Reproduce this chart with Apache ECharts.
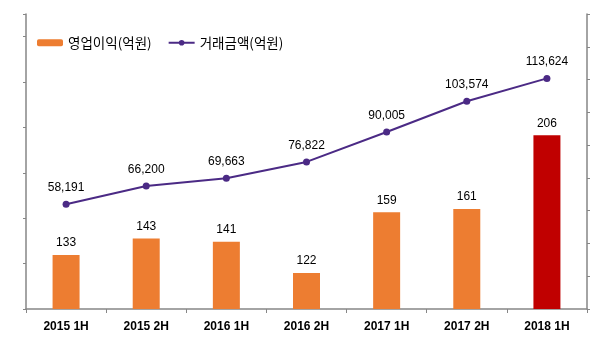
<!DOCTYPE html>
<html>
<head>
<meta charset="utf-8">
<script src="https://cdn.jsdelivr.net/npm/echarts@6/dist/echarts.min.js"></script>
<style>
  html, body { margin: 0; padding: 0; background: #fff; }
  #chart { width: 601px; height: 350px; }
</style>
</head>
<body>
<div id="chart"></div>
<script>
  const categories = ['2015 1H', '2015 2H', '2016 1H', '2016 2H', '2017 1H', '2017 2H', '2018 1H'];
  const profit = [133, 143, 141, 122, 159, 161, 206];      // 영업이익(억원)
  const volume = [58191, 66200, 69663, 76822, 90005, 103574, 113624]; // 거래금액(억원)

  const axisColor = '#868686';
  const numFont = 'Liberation Sans, Arial, sans-serif';

  let myChart = echarts.init(document.getElementById('chart'));

  // last bar highlighted in red
  const barData = profit.map((v, i) => ({
    value: v,
    itemStyle: {color: i === profit.length - 1 ? '#C00000' : '#ED7D31'}
  }));

  let option = {
    animation: false,
    backgroundColor: '#fff',
    legend: {
      left: 32,
      top: 31,
      itemWidth: 26,
      itemHeight: 7,
      itemGap: 16,
      textStyle: {
        fontFamily: 'Noto Sans CJK KR',
        fontSize: 13.5,
        color: '#000'
      },
      data: [
        {name: '영업이익(억원)', itemStyle: {color: '#ED7D31'}},
        {name: '거래금액(억원)'}
      ]
    },
    grid: {left: 26, right: 14, top: 14, bottom: 41},
    xAxis: {
      type: 'category',
      data: categories,
      axisLine: {lineStyle: {color: axisColor, width: 1.5}},
      axisTick: {show: true, length: 4, lineStyle: {color: axisColor}},
      axisLabel: {
        color: '#000',
        fontFamily: numFont,
        fontWeight: 'bold',
        fontSize: 12,
        margin: 12
      }
    },
    yAxis: [
      {
        type: 'value', position: 'left', min: 100, max: 280,
        axisLine: {show: true, lineStyle: {color: axisColor, width: 1.5}},
        axisTick: {show: false}, axisLabel: {show: false}, splitLine: {show: false}
      },
      {
        type: 'value', position: 'right', min: 12000, max: 142000,
        axisLine: {show: true, lineStyle: {color: axisColor, width: 1.5}},
        axisTick: {show: false}, axisLabel: {show: false}, splitLine: {show: false}
      },
      // tick marks only
      {
        type: 'value', position: 'left', min: 0, max: 6.5, interval: 1,
        axisLine: {show: false},
        axisTick: {show: true, length: 3, lineStyle: {color: axisColor}},
        axisLabel: {show: false}, splitLine: {show: false}
      },
      {
        type: 'value', position: 'right', min: 0, max: 9, interval: 1,
        axisLine: {show: false},
        axisTick: {show: true, length: 3, lineStyle: {color: axisColor}},
        axisLabel: {show: false}, splitLine: {show: false}
      }
    ],
    series: [
      {
        name: '영업이익(억원)',
        type: 'bar',
        yAxisIndex: 0,
        barWidth: 27,
        data: barData,
        label: {
          show: true,
          position: 'top',
          distance: 6,
          color: '#000',
          fontFamily: numFont,
          fontSize: 12
        }
      },
      {
        name: '거래금액(억원)',
        type: 'line',
        yAxisIndex: 1,
        data: volume,
        symbol: 'circle',
        symbolSize: 7,
        lineStyle: {color: '#4B2A85', width: 2},
        itemStyle: {color: '#4B2A85'},
        label: {
          show: true,
          position: 'top',
          distance: 7,
          color: '#000',
          fontFamily: numFont,
          fontSize: 12,
          formatter: (p) => p.value.toLocaleString('en-US')
        }
      }
    ]
  };
  myChart.setOption(option);
</script>
</body>
</html>
